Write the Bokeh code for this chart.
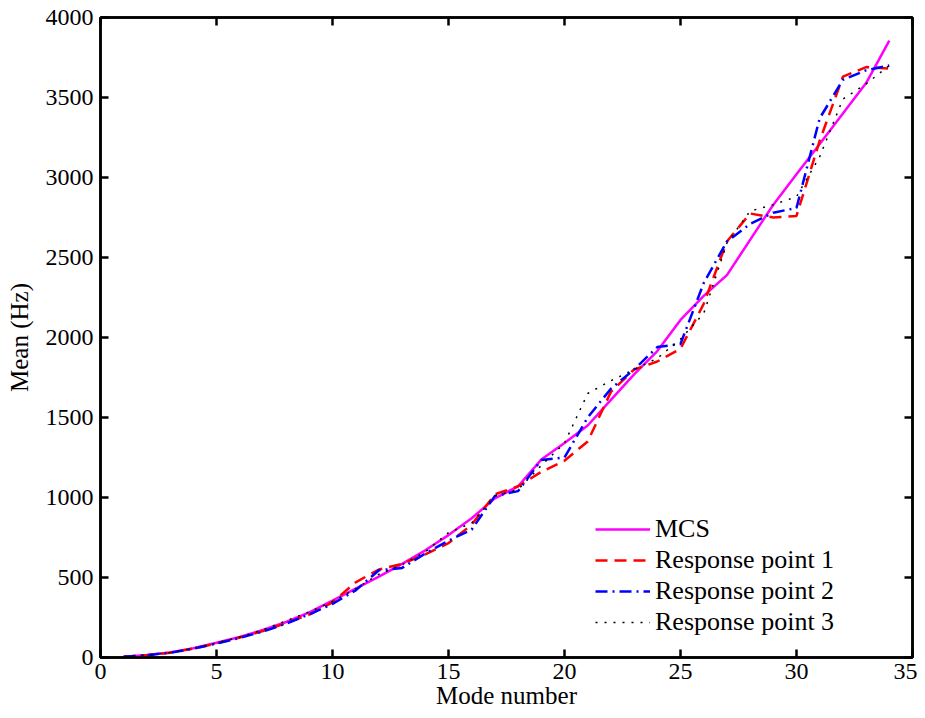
from bokeh.plotting import figure
from bokeh.models import LinearAxis, FixedTicker, Legend, LegendItem, Range1d
from bokeh.embed import file_html
from bokeh.resources import INLINE

modes = list(range(1, 35))
mcs = [5, 15, 32, 58, 92, 128, 172, 222, 282, 355, 430, 505, 585, 670, 765, 870, 995, 1070,
       1237, 1340, 1450, 1610, 1770, 1915, 2110, 2260, 2390, 2610, 2830, 3020, 3210, 3400, 3590, 3855]
rp1 = [5, 14, 30, 56, 88, 125, 165, 215, 268, 345, 470, 550, 585, 645, 715, 830, 1020, 1070,
       1160, 1230, 1350, 1660, 1800, 1850, 1930, 2210, 2600, 2775, 2750, 2760, 3230, 3630, 3690, 3680]
rp2 = [5, 14, 30, 55, 87, 123, 162, 212, 270, 335, 420, 545, 560, 650, 730, 800, 1010, 1040,
       1235, 1250, 1500, 1680, 1800, 1940, 1960, 2340, 2600, 2710, 2780, 2810, 3370, 3610, 3670, 3700]
rp3 = [5, 15, 31, 57, 90, 128, 172, 230, 285, 350, 430, 520, 580, 660, 780, 840, 1010, 1050,
       1200, 1340, 1650, 1730, 1800, 1870, 1990, 2150, 2590, 2790, 2830, 2880, 3130, 3490, 3585, 3700]

x_ticks = [0, 5, 10, 15, 20, 25, 30, 35]
y_ticks = [0, 500, 1000, 1500, 2000, 2500, 3000, 3500, 4000]

FONT = "Liberation Serif"

p = figure(width=917, height=718, output_backend="svg", toolbar_location=None,
           x_range=Range1d(0, 35), y_range=Range1d(0, 4000),
           min_border_left=100, min_border_right=5, min_border_top=17, min_border_bottom=61)
p.xgrid.visible = False
p.ygrid.visible = False
p.outline_line_color = "black"
p.outline_line_width = 2.5

def style_axis(ax, labels=True):
    ax.axis_line_width = 2.5
    ax.axis_line_color = "black"
    ax.major_tick_in = 8
    ax.major_tick_out = 0
    ax.major_tick_line_width = 2.5
    ax.minor_tick_line_color = None
    ax.major_label_text_font = FONT
    ax.major_label_text_font_size = "24px"
    ax.major_label_text_color = "black"
    ax.axis_label_text_font = FONT
    ax.axis_label_text_font_size = "25px"
    ax.axis_label_text_font_style = "normal"
    ax.axis_label_text_color = "black"
    if not labels:
        ax.major_label_text_font_size = "0px"
        ax.major_label_text_color = None

p.xaxis.ticker = FixedTicker(ticks=x_ticks)
p.yaxis.ticker = FixedTicker(ticks=y_ticks)
p.xaxis.axis_label = "Mode number"
p.yaxis.axis_label = "Mean (Hz)"
for ax in p.xaxis + p.yaxis:
    style_axis(ax)
p.xaxis.major_label_standoff = 6
p.xaxis.axis_label_standoff = 0
p.yaxis.major_label_standoff = 7
p.yaxis.axis_label_standoff = 10

top = LinearAxis(ticker=FixedTicker(ticks=x_ticks))
style_axis(top, labels=False)
p.add_layout(top, "above")
right = LinearAxis(ticker=FixedTicker(ticks=y_ticks))
style_axis(right, labels=False)
p.add_layout(right, "right")

r0 = p.line(modes, mcs, line_color="#ff00ff", line_width=2.5)
r1 = p.line(modes, rp1, line_color="#ff0000", line_width=2.5, line_dash="12 7")
r2 = p.line(modes, rp2, line_color="#0000ff", line_width=2.5, line_dash="12 5 2 5")
r3 = p.line(modes, rp3, line_color="black", line_width=1.5, line_dash="2 7")

legend = Legend(items=[LegendItem(label="MCS", renderers=[r0]),
                       LegendItem(label="Response point 1", renderers=[r1]),
                       LegendItem(label="Response point 2", renderers=[r2]),
                       LegendItem(label="Response point 3", renderers=[r3])],
                location=(495, 20), border_line_color=None, background_fill_alpha=0,
                padding=0, margin=0, spacing=1, glyph_width=55, glyph_height=30,
                label_height=30, label_standoff=5,
                label_text_font=FONT, label_text_font_size="26px",
                label_text_color="black")
p.add_layout(legend, "center")

open("out.html", "w").write(file_html(p, INLINE))
